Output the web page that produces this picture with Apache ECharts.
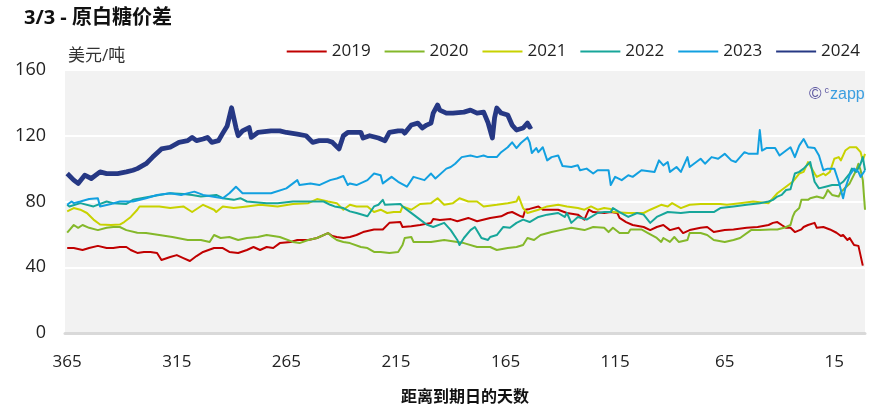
<!DOCTYPE html>
<html><head><meta charset="utf-8">
<script src="https://cdn.jsdelivr.net/npm/echarts@6/dist/echarts.min.js"></script>
<style>html,body{margin:0;padding:0;background:#fff}#c{width:891px;height:418px}</style>
</head><body><div id="c"></div><script>
const titleText = '3/3 - 原白糖价差';
const yUnit = '美元/吨';
const xName = '距离到期日的天数';
const years = ['2019','2020','2021','2022','2023','2024'];
const xTicks = [365,315,265,215,165,115,65,15];
const yTicks = [0,40,80,120,160];

const s2019 = [[365,51.7],[362,51.7],[358,50.5],[355,51.7],[351,53],[347,51.7],[344,51.7],[341,52.3],[338,52.3],[336,50.5],[333,48.7],[330,49.3],[327,49.3],[324,48.7],[322,44.4],[318,46.2],[315,47.4],[312,45.6],[309,43.8],[306,46.8],[303,49.3],[298,51.7],[294,51.7],[291,49.3],[287,48.7],[283,50.5],[280,52.3],[277,50.5],[274,52.3],[271,51.7],[268,54.7],[263,55.4],[260,56.6],[255,56.6],[251,57.8],[246,60.8],[244,59],[242,58.4],[239,57.8],[236,58.4],[233,59.6],[230,61.4],[225,63],[221,63],[218,67],[213,67.5],[212,64.5],[208,65],[204,65.7],[199,67],[198,69.3],[195,68.7],[190,69.3],[187,68],[182,70],[178,68],[172,70],[167,71],[164,73],[162,73.6],[158,71],[157,70.6],[156,75],[154,75.5],[150,77],[148,75],[141,75],[137,73],[132,72],[129,69],[127,75],[125,73.6],[120,73],[117,73.6],[114,73],[113,70],[110,67.5],[107,65.7],[102,64.5],[99,62.6],[96,64.5],[93,65.7],[90,62.6],[86,64],[84,60.8],[81,62.6],[76,64],[73,64.5],[70,61.4],[65,62.6],[61,63],[55,64],[50,64.5],[45,65.7],[43,67],[41,67.5],[39,65.7],[37,64],[35,64],[33,61.4],[30,63],[29,64.5],[27,65.7],[24,67],[23,64],[20,64.5],[17,63],[14,61],[12,59],[11,59.6],[9,56.6],[8,57.8],[6,53.5],[4,53],[2,41]];

const s2020 = [[365,61],[364,62.6],[362,65.7],[360,64],[358,65.7],[355,64],[351,62.6],[347,64],[344,64.5],[341,64.5],[338,62.6],[333,61],[329,60.8],[323,59.6],[317,58.4],[310,56.6],[304,56.6],[300,55.4],[298,59.6],[295,57.8],[291,58.4],[287,56.6],[283,57.8],[278,58.4],[274,59.6],[268,58.4],[262,55.4],[259,54.7],[255,56.6],[251,57.8],[246,60.8],[244,58.4],[242,56.6],[239,55.4],[236,54.7],[231,52.3],[228,51.7],[225,49.3],[222,49.3],[218,48.7],[214,49.3],[212,53.5],[211,57.8],[208,58.4],[207,55.4],[204,55.4],[199,55.4],[193,56.6],[187,55.4],[184,54.7],[178,52.3],[172,52.3],[169,50.5],[164,51.7],[160,52.3],[157,53.5],[155,57.8],[152,56.6],[149,59.6],[144,61.4],[140,62.6],[135,64],[129,62.6],[125,64.5],[120,64],[118,61.4],[116,64],[113,60.8],[109,60.8],[108,63],[103,63],[100,60.8],[96,57.8],[94,55.4],[93,57.8],[90,55.4],[88,58.4],[86,55.4],[82,56.6],[81,60.8],[76,60.8],[73,59.6],[70,56.6],[65,55.4],[61,56.6],[58,57.8],[53,62.6],[49,62.6],[44,63],[41,63],[38,64],[35,65.7],[34,70.6],[33,73.6],[31,76],[30,81],[27,81],[26,82],[23,83],[20,82],[19,84],[18,87],[16,84],[13,83],[12,86],[11,87],[8,91],[5,99],[4,103],[3,99],[2,93],[1,75]];

const s2021 = [[365,74],[362,76],[359,75],[356,73],[353,69],[350,66],[345,65.7],[341,66],[339,67.5],[336,70.6],[333,75],[332,77],[329,77],[323,77],[318,76],[312,77],[308,73.6],[303,78],[298,75],[297,73.6],[294,77],[289,76],[283,77],[277,78],[269,77],[262,78.5],[255,79],[251,81.5],[246,80],[242,79],[239,75],[236,78],[233,77],[228,77],[225,73.6],[222,75],[219,73],[216,73.6],[213,73.6],[212,77],[208,75],[204,78.5],[199,79],[196,82],[193,78],[189,79],[186,82],[182,80],[178,80],[175,77],[169,78],[164,79],[160,80],[159,83],[157,76],[155,73],[150,75],[146,77],[141,78],[137,77],[132,76],[129,75],[126,77],[123,75],[120,76],[117,75.5],[116,73.6],[109,73],[102,73],[99,75],[94,78],[91,77],[89,79],[85,76],[81,78],[76,78.5],[67,78.5],[64,78],[58,79],[52,80],[45,79],[41,85],[36,90],[34,92],[31,97],[29,98],[27,104],[24,97],[23,95],[20,97],[19,96],[17,98],[15,106],[13,107],[12,105],[10,111],[8,113],[5,113],[3,110],[2,105],[1,109]];

const s2022 = [[365,78],[364,77],[359,79],[353,77],[347,80],[344,79],[338,78.5],[335,81],[323,84],[318,85],[312,84.5],[308,84],[304,83],[297,84],[294,82],[289,81],[286,82],[283,80],[274,79],[269,79],[262,80],[255,80],[248,80],[245,78],[243,77],[239,76],[236,74],[233,73],[228,71],[225,77],[223,78],[221,81],[220,78],[213,78.5],[212,77],[207,72],[204,69],[201,66],[198,64.5],[193,67],[190,62.6],[187,56.6],[186,53.5],[184,57.8],[181,62.6],[179,64.5],[176,57.8],[173,56.6],[172,58.4],[169,59.6],[166,64.5],[163,64],[160,67],[157,69],[154,67.5],[150,70.6],[146,72],[141,73],[138,70.6],[137,73],[135,67],[132,70.6],[128,69],[123,73],[120,73.6],[117,73.6],[116,76],[113,73.6],[109,70.6],[105,73],[102,72],[99,67],[96,70.6],[91,73.6],[85,73],[81,73.6],[76,73.6],[70,73.6],[67,76],[61,77],[55,78],[49,79],[45,80],[43,81],[41,83],[39,84],[37,87],[35,87.5],[33,97],[31,98],[29,100],[26,104],[24,92],[22,88],[19,89],[16,90],[13,90],[11,92],[8,97],[7,100],[5,98],[3,103],[2,107],[1,99]];

const s2023 = [[365,78],[363,80],[362,79],[359,80],[355,81.5],[351,82],[350,77],[345,78.5],[341,80],[335,80],[329,82],[324,84],[318,85],[313,84],[307,86],[303,84],[294,82],[291,85],[288,89],[285,85],[278,85],[272,85],[265,88],[260,93],[259,90],[254,91],[250,90],[245,93],[242,94],[239,95.5],[237,90],[236,91],[233,90],[228,93],[225,97],[222,96],[221,91],[217,95],[214,92],[210,89],[207,95],[202,93],[199,97],[197,94],[192,100],[190,101],[188,103],[185,107],[181,108],[178,107],[175,108],[173,107],[169,107],[167,110],[164,113],[162,116],[160,112.5],[158,115.6],[155,119],[154,116],[153,109.5],[151,112.5],[150,110],[148,113],[146,105],[144,107],[141,108],[139,101.6],[135,101],[132,102],[131,99],[128,100],[125,97],[123,99],[118,99],[117,90],[115,95],[112,93],[109,96],[107,95],[103,99],[97,98],[95,105],[93,102],[91,104],[90,98],[87,101],[85,98],[82,107],[81,101],[76,106],[74,103],[71,107],[68,106],[65,109],[62,105],[60,104],[56,110],[54,109],[50,109],[49,123.5],[48,111],[46,112.5],[44,112.5],[42,112.5],[40,108],[37,111],[35,113],[33,107],[31,114],[29,118],[27,113],[24,112.5],[22,108],[20,99],[18,100],[15,100],[13,92],[11,82],[10,88],[8,96],[6,100],[4,98],[3,95],[1,99]];

const s2024 = [[365,97],[362,93],[360,91],[357,96],[354,94],[350,98],[347,97],[342,97],[338,98],[335,99],[333,100],[329,103],[326,107],[322,112],[318,113],[314,116],[310,117],[308,119],[306,117],[303,118],[301,119],[299,116],[296,117],[294,121.6],[292,126],[290,137],[288,125],[287,120],[285,123],[282,125],[281,119],[278,122],[272,123],[268,123],[265,122],[260,121],[256,120],[253,116],[250,117],[246,117],[244,116],[241,112],[239,120],[237,122],[234,122],[231,122],[230,118.6],[227,120],[223,118.6],[220,117],[218,122],[214,123],[212,123],[211,121.6],[208,126.5],[205,127.7],[203,124.7],[201,126.5],[199,127.7],[198,133.8],[196,138.7],[195,135.6],[192,133.8],[189,133.8],[184,134.4],[181,135.6],[178,133.8],[175,134.4],[173,128],[171,118.6],[170,131],[169,136.9],[167,133.8],[164,132.6],[162,126.5],[160,123.5],[157,124.7],[155,127.7],[154,125.3],[153,126]];

const seriesData = [s2019, s2020, s2021, s2022, s2023, s2024];
const colors = ['#c00000','#84b82a','#c8d200','#17a69a','#12a0e0','#263884'];
const widths = [2, 2, 2, 2, 2, 4.8];
const FONT = "'Open Sans','Noto Sans CJK SC',sans-serif";

const chart = echarts.init(document.getElementById('c'));
chart.setOption({
  animation: false,
  backgroundColor: '#ffffff',
  textStyle: { fontFamily: FONT },
  title: {
    text: titleText, left: 19, top: 3,
    textStyle: { fontSize: 20, fontWeight: 'bold', color: '#111', fontFamily: FONT }
  },
  legend: {
    data: years, right: 26, top: 38, itemWidth: 40, itemHeight: 14, itemGap: 13,
    itemStyle: { opacity: 0, borderWidth: 0 },
    textStyle: { fontSize: 17, color: '#222', fontFamily: FONT }
  },
  grid: { left: 65, right: 26, top: 70, bottom: 85, show: true, backgroundColor: '#f2f2f2', borderWidth: 0 },
  xAxis: {
    type: 'value', inverse: true, min: 1, max: 366,
    name: xName, nameLocation: 'middle', nameGap: 56,
    nameTextStyle: { fontSize: 16, fontWeight: 'bold', color: '#111', fontFamily: FONT },
    axisLine: { show: true, onZero: false, lineStyle: { color: '#d9d9d9', width: 3 } },
    axisTick: { show: false },
    splitLine: { show: false },
    axisLabel: { customValues: xTicks, fontSize: 17, color: '#222', margin: 21, fontFamily: FONT }
  },
  yAxis: {
    type: 'value', min: yTicks[0], max: yTicks[yTicks.length-1], interval: 40,
    name: yUnit, nameLocation: 'end', nameGap: 5,
    nameTextStyle: { fontSize: 17, color: '#333', align: 'left', verticalAlign: 'bottom', padding: [0,0,0,3], fontFamily: FONT },
    axisLine: { show: false }, axisTick: { show: false },
    splitLine: { show: true, lineStyle: { color: '#ffffff', width: 2 } },
    axisLabel: { fontSize: 18, color: '#222', margin: 19, fontFamily: FONT }
  },
  graphic: [
    { type: 'text', x: 809, y: 86, silent: true, style: {
        text: '{a|©}{b|c}{d|zapp}', fontFamily: FONT,
        rich: {
          a: { fontSize: 17, fill: '#5b55a0', padding: [0, 3, 0, 0] },
          b: { fontSize: 9, fill: '#5b55a0', verticalAlign: 'top', padding: [0, 1, 6, 0] },
          d: { fontSize: 16, fill: '#3b9ee0' }
        }
    } }
  ],
  series: years.map((y, i) => ({
    name: y, type: 'line', data: seriesData[i], symbol: 'none', z: 2 + i,
    lineStyle: { color: colors[i], width: widths[i], join: 'round' },
    itemStyle: { color: colors[i] }
  }))
});
</script></body></html>
